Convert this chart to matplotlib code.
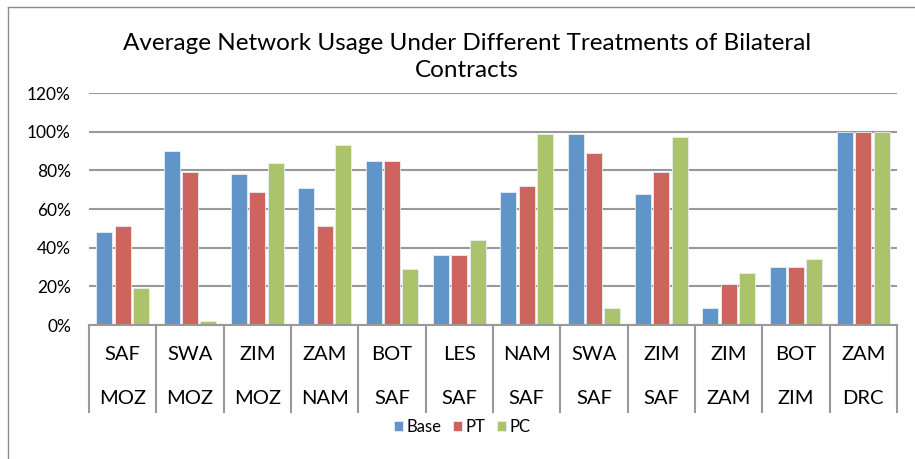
import numpy as np
import matplotlib
matplotlib.use("Agg")
import matplotlib.pyplot as plt
from matplotlib.lines import Line2D
from matplotlib.transforms import blended_transform_factory
from matplotlib.ticker import PercentFormatter

plt.rcParams['font.family'] = ['Lato', 'DejaVu Sans']

# Data
top_labels = ["SAF", "SWA", "ZIM", "ZAM", "BOT", "LES", "NAM", "SWA", "ZIM", "ZIM", "BOT", "ZAM"]
bottom_labels = ["MOZ", "MOZ", "MOZ", "NAM", "SAF", "SAF", "SAF", "SAF", "SAF", "ZAM", "ZIM", "DRC"]
base = [0.48, 0.90, 0.78, 0.71, 0.85, 0.36, 0.69, 0.99, 0.68, 0.09, 0.30, 1.00]
pt = [0.51, 0.79, 0.69, 0.51, 0.85, 0.36, 0.72, 0.89, 0.79, 0.21, 0.30, 1.00]
pc = [0.19, 0.02, 0.84, 0.93, 0.29, 0.44, 0.99, 0.09, 0.97, 0.27, 0.34, 1.00]
series_names = ["Base", "PT", "PC"]
colors = ["#6195c9", "#cd645e", "#abc36a"]

W, H = 915, 459
fig = plt.figure(figsize=(W / 100, H / 100), dpi=100)
ax = fig.add_axes([89 / W, (H - 325) / H, (897 - 89) / W, (325 - 93) / H])

x = np.arange(len(top_labels))
bw = 0.238
offs = 0.272
for i, (vals, name, c) in enumerate(zip([base, pt, pc], series_names, colors)):
    ax.bar(x + (i - 1) * offs, vals, width=bw, color=c, edgecolor="#e8eef5",
           linewidth=0.6, label=name, zorder=3)

ax.set_xlim(-0.5, len(top_labels) - 0.5)
ax.set_ylim(0, 1.2)
ax.set_yticks(np.arange(0, 1.21, 0.2))
ax.yaxis.set_major_formatter(PercentFormatter(1.0, decimals=0))
ax.tick_params(axis="y", length=0, labelsize=12.5, pad=13)
ax.tick_params(axis="x", length=0, labelbottom=False)
ax.grid(axis="y", color="#999999", linewidth=1.5, zorder=0)
for s in ["left", "right", "top"]:
    ax.spines[s].set_visible(False)
ax.spines["bottom"].set_color("#999999")
ax.spines["bottom"].set_linewidth(1.5)
ax.spines["bottom"].set_zorder(4)

# category table below the axis
tr = blended_transform_factory(ax.transData, ax.transAxes)
depth = (412 - 325) / (325 - 93)
for b in np.arange(-0.5, len(top_labels), 1.0):
    ax.plot([b, b], [0, -depth], transform=tr, color="#999999", linewidth=1.5,
            clip_on=False)
y1 = -(355 - 325) / (325 - 93)
y2 = -(398 - 325) / (325 - 93)
for xi, t, b in zip(x, top_labels, bottom_labels):
    ax.text(xi, y1, t, transform=tr, ha="center", va="center", fontsize=14.5)
    ax.text(xi, y2, b, transform=tr, ha="center", va="center", fontsize=14.5)

fig.text(467 / W, 1 - 57 / H,
         "Average Network Usage Under Different Treatments of Bilateral\nContracts",
         ha="center", va="center", fontsize=17.5, linespacing=1.3)

fig.legend(loc="center", bbox_to_anchor=(462 / W, 1 - 427 / H), ncol=3,
           frameon=False, fontsize=12, handlelength=0.55, handleheight=0.55,
           handletextpad=0.2, columnspacing=0.7)

# outer chart frame (only left and top edges visible)
fig.add_artist(Line2D([8 / W, 8 / W], [0, 1 - 7 / H], transform=fig.transFigure,
                      color="#8c8c8c", linewidth=1))
fig.add_artist(Line2D([8 / W, 1], [1 - 7 / H, 1 - 7 / H], transform=fig.transFigure,
                      color="#8c8c8c", linewidth=1))

fig.savefig("out.png", dpi=100)
